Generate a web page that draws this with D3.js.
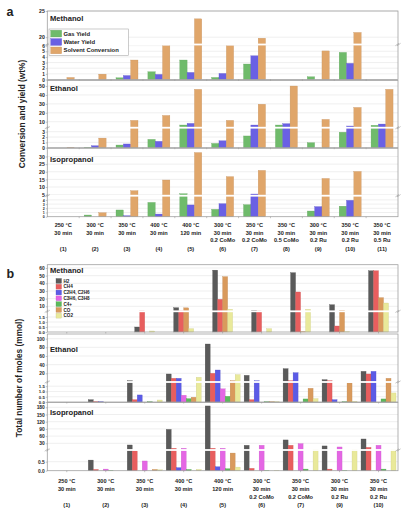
<!DOCTYPE html>
<html><head><meta charset="utf-8">
<script src="https://cdn.jsdelivr.net/npm/d3@7"></script>
<style>
body{margin:0;background:#fff}
svg{display:block}
text{font-family:"Liberation Sans",Arial,sans-serif;font-weight:bold;fill:#222}
</style>
</head><body><svg id="c" width="411" height="518"></svg>
<script>
// ---------------- DATA ----------------
const catsA = ["(1)","(2)","(3)","(4)","(5)","(6)","(7)","(8)","(9)","(10)","(11)"];
const condA = [["250 °C","30 min"],["300 °C","30 min"],["350 °C","30 min"],["400 °C","30 min"],["400 °C","120 min"],
  ["300 °C","30 min","0.2 CoMo"],["350 °C","30 min","0.2 CoMo"],["350 °C","30 min","0.5 CoMo"],
  ["300 °C","30 min","0.2 Ru"],["350 °C","30 min","0.2 Ru"],["350 °C","30 min","0.5 Ru"]];
const seriesA = ["Gas Yield","Water Yield","Solvent Conversion"];

const aMethanolGas     = [0, 0, 0.3, 1.37, 3.45, 0.36, 2.74, 0, 0.48, 4.8, 0];
const aMethanolWater   = [0, 0, 0.7, 0.9, 1.25, 1.07, 4.2, 0, 0, 2.86, 0];
const aMethanolSolvent = [0.36, 0.95, 3.45, 6.0, 23.5, 6.0, 19.8, 0, 5.06, 20.9, 0];

const aEthanolGas     = [0, 0.1, 0.5, 1.56, 6.3, 0.8, 2.2, 6.3, 0.94, 2.9, 6.0];
const aEthanolWater   = [0, 0.37, 0.7, 1.19, 8.1, 1.3, 6.3, 7.8, 0, 5.2, 7.4];
const aEthanolSolvent = [0.1, 1.8, 11.5, 17, 46.3, 11.5, 29.6, 50, 12.6, 26, 46.3];

const aIsoGas     = [0, 0.4, 1.6, 3.4, 5.6, 1.75, 2.86, 0, 1.35, 2.5, 0];
const aIsoWater   = [0, 0, 0.24, 0.63, 2.8, 3.1, 5.4, 0, 2.4, 3.9, 0];
const aIsoSolvent = [0, 0.95, 7.6, 14.6, 32.6, 16.8, 20.9, 0, 15.6, 20.2, 0];

const catsB = ["(1)","(2)","(3)","(4)","(5)","(6)","(7)","(9)","(10)"];
const condB = [["250 °C","30 min"],["300 °C","30 min"],["350 °C","30 min"],["400 °C","30 min"],["400 °C","120 min"],
  ["300 °C","30 min","0.2 CoMo"],["350 °C","30 min","0.2 CoMo"],["300 °C","30 min","0.2 Ru"],["350 °C","30 min","0.2 Ru"]];
const seriesB = ["H2","CH4","C2H4, C2H6","C3H6, C3H8","C4+","CO","CO2"];
const seriesBMethanol = ["H2","CH4","CO","CO2"];

const bMethanolH2  = [0, 0, 0.5, 8.2, 57.2, 4.8, 53.9, 12.1, 56.4];
const bMethanolCH4 = [0, 0, 4, 4, 19.1, 4, 28.7, 0.6, 56.4];
const bMethanolCO  = [0, 0, 0, 8, 48.7, 0, 0.03, 4.8, 21.3];
const bMethanolCO2 = [0, 0, 0.1, 0.33, 6.1, 0.33, 6.1, 0.02, 14.3];

const bEthanolH2  = [0, 0.22, 3, 18.5, 87.7, 15.4, 30.8, 5.4, 24.6];
const bEthanolCH4 = [0, 0.03, 0.22, 8.5, 20, 0.22, 3, 3, 18.5];
const bEthanolC2  = [0, 0.02, 0.67, 8.5, 27.7, 3, 21.5, 0.22, 24.6];
const bEthanolC3  = [0, 0, 0, 0.64, 1.25, 0, 0, 0, 0];
const bEthanolC4  = [0, 0, 0.02, 0.32, 0.54, 0.02, 0.29, 0.02, 0.29];
const bEthanolCO  = [0, 0, 0, 0.45, 3, 0.02, 1.3, 1.8, 8.5];
const bEthanolCO2 = [0, 0, 0.19, 10.8, 17, 0.02, 0.32, 0.05, 0.86];

const bIsoH2  = [0, 0.59, 23, 88, 185.6, 21.7, 44, 19, 48];
const bIsoCH4 = [0, 0.07, 1.1, 9.2, 9.2, 0.13, 21.7, 0.09, 13];
const bIsoC2  = [0, 0, 0, 0.17, 0.22, 0, 0, 0, 0];
const bIsoC3  = [0, 0.09, 0.54, 9.2, 9.2, 21.7, 28.6, 14.7, 21.7];
const bIsoC4  = [0, 0.02, 0, 0.07, 0.11, 0.02, 0.09, 0.02, 0.09];
const bIsoCO  = [0, 0, 0.07, 0, 0.98, 0, 0, 0, 0];
const bIsoCO2 = [0, 0, 0.05, 0.07, 0.2, 0.02, 3.5, 3.5, 3.5];

// tick labels
const aMethanolTicksLow = [0,1,2,3,4,5,6], aMethanolTicksUp = [20,25];
const aEthanolTicksLow = [0,1,2,3], aEthanolTicksUp = [10,20,30,40,50];
const aIsoTicksLow = [0,1,2,3,4], aIsoTicksUp = [5,10,15,20,25,30];
const bMethanolTicksLow = [0,0.5,1,1.5], bMethanolTicksUp = [10,20,30,40,50,60];
const bEthanolTicksLow = [0,0.5,1,1.5], bEthanolTicksUp = [20,40,60,80,100];
const bIsoTicksLow = [0,0.5], bIsoTicksUp = [30,60,90,120,150,180];

// ---------------- STYLE / LAYOUT ----------------
const colorA = {"Gas Yield":"#6fbb6b","Water Yield":"#6a60e4","Solvent Conversion":"#e0a66a"};
const colorB = {"H2":"#5a5a5a","CH4":"#e85e5e","C2H4, C2H6":"#5b5be6","C3H6, C3H8":"#e466e4","C4+":"#5cb85c","CO":"#d99a5c","CO2":"#e9e99a"};
const XL = 47.3, XR = 398;

const svg = d3.select("#c");
const x0A = d3.scaleBand().domain(catsA).range([XL, XR]);
const x0B = d3.scaleBand().domain(catsB).range([XL, XR]);

function drawPanel(p) {
  const g = svg.append("g");
  const lo = d3.scaleLinear().domain(p.lower).range([p.bottom, p.brk]);
  const hi = d3.scaleLinear().domain(p.upper).range([p.brk, p.top]).clamp(true);
  const y = v => v <= p.lower[1] ? lo(v) : hi(v);
  // grid
  g.selectAll(".gl").data(p.ticksLow.filter(t => t > 0)).join("line")
    .attr("x1", XL).attr("x2", XR).attr("y1", d => lo(d)).attr("y2", d => lo(d))
    .attr("stroke", "#e4e4e4").attr("stroke-width", 0.6);
  g.selectAll(".gu").data(p.ticksUp).join("line")
    .attr("x1", XL).attr("x2", XR).attr("y1", d => hi(d)).attr("y2", d => hi(d))
    .attr("stroke", "#e4e4e4").attr("stroke-width", 0.6);
  // bars
  const x1 = d3.scaleBand().domain(p.series).range([0, p.x0.bandwidth()]).paddingOuter(p.po);
  const rows = [];
  p.series.forEach((s, si) => p.values[si].forEach((v, ci) => rows.push({s, v, c: p.x0.domain()[ci]})));
  g.selectAll("rect.bar").data(rows.filter(d => d.v > 0)).join("rect")
    .attr("class", "bar")
    .attr("x", d => p.x0(d.c) + x1(d.s))
    .attr("width", x1.bandwidth())
    .attr("y", d => y(d.v))
    .attr("height", d => p.bottom - y(d.v))
    .attr("fill", d => p.color[d.s])
    .attr("stroke", d => d3.color(p.color[d.s]).darker(0.4))
    .attr("stroke-width", 0.3);
  // break band
  g.append("rect").attr("x", XL).attr("width", XR - XL).attr("y", p.brk - 0.9).attr("height", 1.8).attr("fill", "#fff");
  // border
  g.append("rect").attr("x", XL).attr("y", p.top).attr("width", XR - XL).attr("height", p.bottom - p.top)
    .attr("fill", "none").attr("stroke", "#a0a0a0").attr("stroke-width", 0.8);
  // break marks
  [XL, XR].forEach(xx => {
    [-1, 1].forEach(o => g.append("line").attr("x1", xx - 1.8 + o * 0.8).attr("x2", xx + 1.8 + o * 0.8)
      .attr("y1", p.brk + 1.2).attr("y2", p.brk - 1.2).attr("stroke", "#888").attr("stroke-width", 0.5));
  });
  // x ticks
  const tickXs = p.tickAtCenter ? p.x0.domain().map(c => p.x0(c) + p.x0.bandwidth() / 2)
                                : p.x0.domain().slice(1).map(c => p.x0(c));
  g.selectAll(".xt").data(tickXs).join("line").attr("x1", d => d).attr("x2", d => d)
    .attr("y1", p.bottom).attr("y2", p.bottom + 1.5).attr("stroke", "#888").attr("stroke-width", 0.5);
  // y axes
  const axL = g.append("g").attr("transform", `translate(${XL},0)`)
    .call(d3.axisLeft(lo).tickValues(p.ticksLow).tickSize(1.5).tickPadding(1).tickFormat(p.fmt));
  const axU = g.append("g").attr("transform", `translate(${XL},0)`)
    .call(d3.axisLeft(hi).tickValues(p.ticksUp).tickSize(1.5).tickPadding(1).tickFormat(d3.format("d")));
  [[axL, p.lowFont], [axU, p.tickFont]].forEach(([a, fs]) => {
    a.select(".domain").remove();
    a.selectAll("line").attr("stroke", "#888").attr("stroke-width", 0.5);
    a.selectAll("text").attr("font-size", fs).attr("fill", "#222")
      .attr("font-family", '"Liberation Sans",Arial,sans-serif').attr("font-weight", "bold");
  });
  // title
  g.append("text").attr("x", 50).attr("y", p.top + p.titleDy).attr("font-size", 7.6).text(p.title);
}

function xLabels(x0, conds, cats, rowsY) {
  const g = svg.append("g").attr("font-size", 5.6).attr("text-anchor", "middle");
  cats.forEach((c, i) => {
    const cx = x0(c) + x0.bandwidth() / 2;
    conds[i].forEach((t, j) => g.append("text").attr("x", cx).attr("y", rowsY[j]).text(t));
    g.append("text").attr("x", cx).attr("y", rowsY[3]).text(c);
  });
}

// ---------------- PANEL a ----------------
const fmtInt = d3.format("d"), fmt1 = d3.format(".1f");
drawPanel({x0: x0A, series: seriesA, color: colorA, po: 0.675, tickAtCenter: false,
  values: [aMethanolGas, aMethanolWater, aMethanolSolvent],
  top: 11, brk: 44.5, bottom: 79.5, lower: [0, 6.2], upper: [18.6, 25],
  ticksLow: aMethanolTicksLow, ticksUp: aMethanolTicksUp, fmt: fmtInt, tickFont: 5.2, lowFont: 4.8, title: "Methanol", titleDy: 9.5});
drawPanel({x0: x0A, series: seriesA, color: colorA, po: 0.675, tickAtCenter: false,
  values: [aEthanolGas, aEthanolWater, aEthanolSolvent],
  top: 80.5, brk: 127.7, bottom: 147.7, lower: [0, 3.75], upper: [3.3, 56.2],
  ticksLow: aEthanolTicksLow, ticksUp: aEthanolTicksUp, fmt: fmtInt, tickFont: 5.2, lowFont: 4.8, title: "Ethanol", titleDy: 10});
drawPanel({x0: x0A, series: seriesA, color: colorA, po: 0.675, tickAtCenter: false,
  values: [aIsoGas, aIsoWater, aIsoSolvent],
  top: 148.3, brk: 195.7, bottom: 216.7, lower: [0, 5.0], upper: [4.3, 35.4],
  ticksLow: aIsoTicksLow, ticksUp: aIsoTicksUp, fmt: fmtInt, tickFont: 5.2, lowFont: 3.6, title: "Isopropanol", titleDy: 13.5});
xLabels(x0A, condA, catsA, [227, 234.6, 242.2, 251.3]);

// legend a
{
  const lg = svg.append("g");
  lg.append("rect").attr("x", 49).attr("y", 29).attr("width", 79.5).attr("height", 26.3)
    .attr("fill", "#fff").attr("stroke", "#aaa").attr("stroke-width", 0.6);
  seriesA.forEach((s, i) => {
    lg.append("rect").attr("x", 50.7).attr("y", 30.2 + i * 8.4).attr("width", 11).attr("height", 6.8)
      .attr("fill", colorA[s]).attr("stroke", d3.color(colorA[s]).darker(0.4)).attr("stroke-width", 0.3);
    lg.append("text").attr("x", 63.5).attr("y", 35.6 + i * 8.4).attr("font-size", 5.9).text(s);
  });
}
svg.append("text").attr("x", 6.5).attr("y", 16).attr("font-size", 12.5).text("a");
svg.append("text").attr("transform", "translate(25,114) rotate(-90)").attr("text-anchor", "middle")
  .attr("font-size", 8.3).text("Conversion and yield (wt%)");

// ---------------- PANEL b ----------------
drawPanel({x0: x0B, series: seriesBMethanol, color: colorB, po: 1.9, tickAtCenter: true,
  values: [bMethanolH2, bMethanolCH4, bMethanolCO, bMethanolCO2],
  top: 264.7, brk: 311.3, bottom: 332, lower: [0, 2.07], upper: [3.5, 64.3],
  ticksLow: bMethanolTicksLow, ticksUp: bMethanolTicksUp, fmt: fmt1, tickFont: 4.9, lowFont: 4.3, title: "Methanol", titleDy: 8.5});
drawPanel({x0: x0B, series: seriesB, color: colorB, po: 0.4, tickAtCenter: true,
  values: [bEthanolH2, bEthanolCH4, bEthanolC2, bEthanolC3, bEthanolC4, bEthanolCO, bEthanolCO2],
  top: 334, brk: 382, bottom: 402, lower: [0, 1.9], upper: [0, 110.8],
  ticksLow: bEthanolTicksLow, ticksUp: bEthanolTicksUp, fmt: fmt1, tickFont: 4.9, lowFont: 4.3, title: "Ethanol", titleDy: 17.5});
drawPanel({x0: x0B, series: seriesB, color: colorB, po: 0.4, tickAtCenter: true,
  values: [bIsoH2, bIsoCH4, bIsoC2, bIsoC3, bIsoC4, bIsoCO, bIsoCO2],
  top: 402.5, brk: 450, bottom: 470.7, lower: [0, 1.15], upper: [2.1, 200],
  ticksLow: bIsoTicksLow, ticksUp: bIsoTicksUp, fmt: fmt1, tickFont: 4.9, lowFont: 4.9, title: "Isopropanol", titleDy: 12.5});
xLabels(x0B, condB, catsB, [483, 491, 499, 507]);

// legend b
{
  const lg = svg.append("g");
  seriesB.forEach((s, i) => {
    lg.append("rect").attr("x", 56).attr("y", 278.5 + i * 5.8).attr("width", 5.5).attr("height", 4.8)
      .attr("fill", colorB[s]).attr("stroke", d3.color(colorB[s]).darker(0.5)).attr("stroke-width", 0.3);
    lg.append("text").attr("x", 63.5).attr("y", 282.6 + i * 5.8).attr("font-size", 4.6).text(s);
  });
}
svg.append("text").attr("x", 6.5).attr("y", 278).attr("font-size", 12.5).text("b");
svg.append("text").attr("transform", "translate(22,378) rotate(-90)").attr("text-anchor", "middle")
  .attr("font-size", 8.3).text("Total number of moles (mmol)");
</script>
</body></html>
